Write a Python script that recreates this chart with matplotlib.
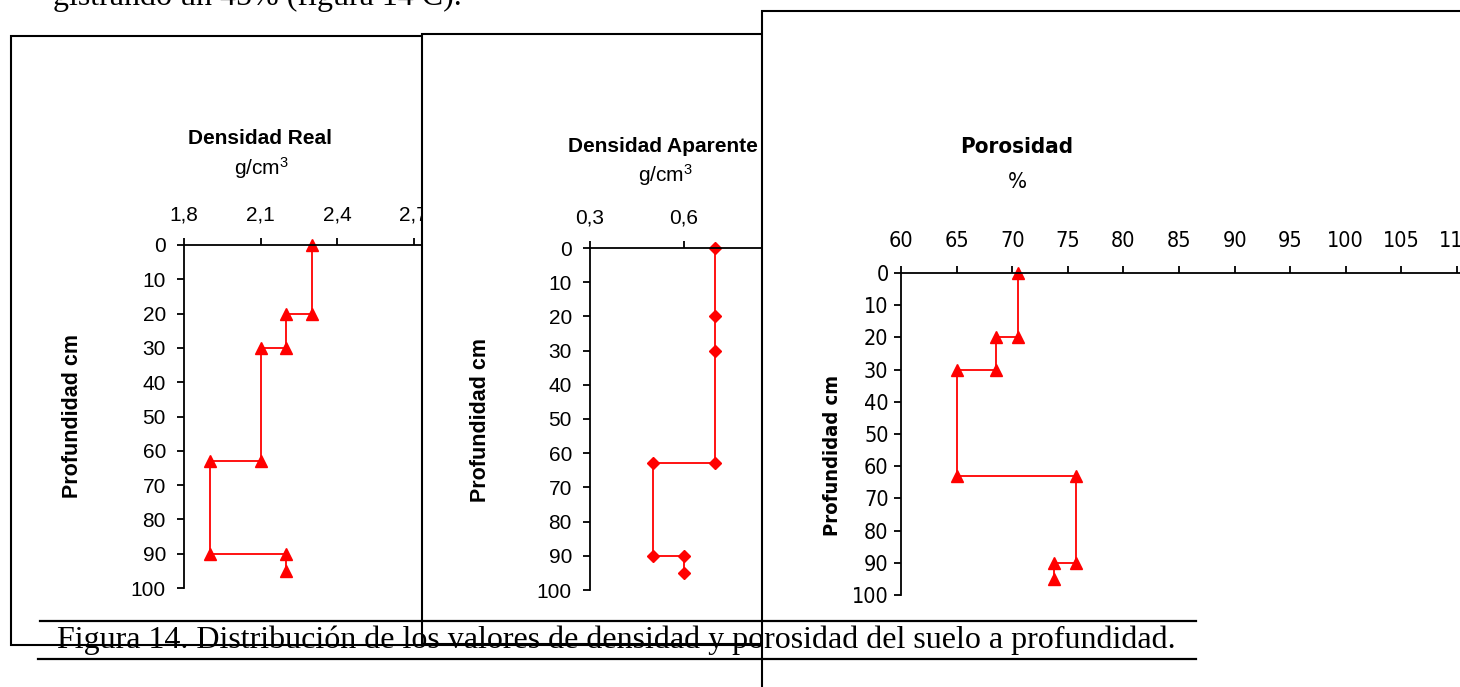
#!/usr/bin/env python3
"""Soil density / porosity depth profiles, three overlapping Excel-style panels."""

import matplotlib
matplotlib.use("Agg")
import matplotlib.pyplot as plt
from matplotlib import font_manager as fm
from matplotlib.patches import Rectangle
from matplotlib.lines import Line2D

plt.rcParams["font.family"] = ["Liberation Sans", "DejaVu Sans"]
plt.rcParams["mathtext.default"] = "regular"

W, H = 1460, 687
RED = "#FF0000"
SERIF = ["Liberation Serif", "DejaVu Serif"]

# data (depth in cm)
real_depth = [0, 20, 20, 30, 30, 63, 63, 90, 90, 95]
real_vals = [2.30, 2.30, 2.20, 2.20, 2.10, 2.10, 1.90, 1.90, 2.20, 2.20]
real_ticks = [1.8, 2.1, 2.4, 2.7, 3.0]

apar_depth = [0, 20, 30, 63, 63, 90, 90, 95]
apar_vals = [0.70, 0.70, 0.70, 0.70, 0.50, 0.50, 0.60, 0.60]
apar_ticks = [0.3, 0.6, 0.9, 1.2]

poro_depth = [0, 20, 20, 30, 30, 63, 63, 90, 90, 95]
poro_vals = [70.5, 70.5, 68.5, 68.5, 65.0, 65.0, 75.7, 75.7, 73.8, 73.8]
poro_ticks = [60, 65, 70, 75, 80, 85, 90, 95, 100, 105, 110, 115]

depth_ticks = list(range(0, 101, 10))

caption = ("Figura 14. Distribución de los valores de densidad y porosidad "
           "del suelo a profundidad.")
top_line = "gistrando un 45% (figura 14 C)."


def narrow_font(bold):
    # the porosity panel uses a condensed face; take one if the box has it
    best = None
    for f in fm.fontManager.ttflist:
        key = (f.name + " " + str(f.stretch) + " " + f.fname).lower()
        if not ("narrow" in key or "condensed" in key):
            continue
        if f.style != "normal":
            continue
        is_bold = f.weight in ("bold", 700) or "bold" in f.fname.lower()
        if is_bold != bold:
            continue
        if best is None or "liberation" in f.name.lower():
            best = f.fname
    return best


NARROW_R = narrow_font(False)
NARROW_B = narrow_font(True)


def narrow_props(size, bold=False):
    path = NARROW_B if bold else NARROW_R
    if path:
        return fm.FontProperties(fname=path, size=size)
    # no condensed face: plain sans, a bit smaller to keep the widths
    return fm.FontProperties(family="Liberation Sans", size=size - 1.5,
                             weight="bold" if bold else "normal")


def fx(px):
    return px / W


def fy(py):
    return 1 - py / H


def box(fig, x0, y0, x1, y1, z):
    r = Rectangle((fx(x0), fy(y1)), fx(x1) - fx(x0), fy(y0) - fy(y1),
                  transform=fig.transFigure, facecolor="white",
                  edgecolor="black", linewidth=1.5, zorder=z)
    fig.add_artist(r)


def profile_axes(fig, px, py, xlim, ticks, fmt, z, props, ypad, xpad):
    ax = fig.add_axes([fx(px[0]), fy(py[1]), fx(px[1]) - fx(px[0]),
                       fy(py[0]) - fy(py[1])])
    ax.set_zorder(z)
    ax.patch.set_visible(False)
    ax.set_xlim(*xlim)
    ax.set_ylim(100, 0)
    ax.xaxis.tick_top()
    ax.set_xticks(ticks)
    ax.set_xticklabels([fmt(t) for t in ticks])
    ax.set_yticks(depth_ticks)
    for s in ["right", "bottom"]:
        ax.spines[s].set_visible(False)
    for s in ["top", "left"]:
        ax.spines[s].set_linewidth(1.3)
    ax.tick_params(axis="x", direction="out", length=5, width=1.3, pad=xpad)
    ax.tick_params(axis="y", direction="out", length=5, width=1.3, pad=ypad)
    for lab in ax.get_xticklabels() + ax.get_yticklabels():
        lab.set_fontproperties(props)
    return ax


def comma(v):
    return f"{v:.1f}".replace(".", ",")


fig = plt.figure(figsize=(W / 100, H / 100), dpi=100)
fig.patch.set_facecolor("white")
tick_props = fm.FontProperties(family="Liberation Sans", size=15)

# panel A - densidad real
box(fig, 11, 36, 900, 645, 1)
ax1 = profile_axes(fig, (184, 490), (245, 588), (1.8, 3.0), real_ticks, comma,
                   2, tick_props, 8, 10)
ax1.plot(real_vals, real_depth, color=RED, lw=1.3, marker="^", ms=9,
         mec=RED, mfc=RED, clip_on=False)
fig.text(fx(260), fy(138), "Densidad Real", ha="center", va="center",
         fontsize=15, weight="bold", zorder=2.5)
fig.text(fx(261), fy(168), "g/cm$^{3}$", ha="center", va="center",
         fontsize=15, zorder=2.5)
fig.text(fx(72), fy(416), "Profundidad cm", ha="center", va="center",
         rotation=90, fontsize=15.5, weight="bold", zorder=2.5)

# panel B - densidad aparente
box(fig, 422, 34, 1100, 644, 3)
ax2 = profile_axes(fig, (590, 872), (248, 590), (0.3, 1.2), apar_ticks, comma,
                   4, tick_props, 8, 10)
ax2.plot(apar_vals, apar_depth, color=RED, lw=1.3, marker="D", ms=6.5,
         mec=RED, mfc=RED, clip_on=False)
fig.text(fx(568), fy(147), "Densidad Aparente", ha="left", va="center",
         fontsize=15, weight="bold", zorder=4.5)
fig.text(fx(665), fy(175), "g/cm$^{3}$", ha="center", va="center",
         fontsize=15, zorder=4.5)
fig.text(fx(480), fy(420), "Profundidad cm", ha="center", va="center",
         rotation=90, fontsize=15.5, weight="bold", zorder=4.5)

# panel C - porosidad
box(fig, 762, 11, 1520, 720, 5)
ax3 = profile_axes(fig, (901, 1512.6), (273, 595), (60, 115), poro_ticks,
                   lambda v: f"{v:d}", 6, narrow_props(15.5), 4, 11)
ax3.plot(poro_vals, poro_depth, color=RED, lw=1.3, marker="^", ms=9,
         mec=RED, mfc=RED, clip_on=False)
fig.text(fx(1017), fy(147), "Porosidad", ha="center", va="center",
         fontproperties=narrow_props(16, bold=True), zorder=6.5)
fig.text(fx(1017), fy(182), "%", ha="center", va="center",
         fontproperties=narrow_props(16), zorder=6.5)
fig.text(fx(832), fy(456), "Profundidad cm", ha="center", va="center",
         rotation=90, fontproperties=narrow_props(14.5, bold=True), zorder=6.5)

# document text on top
fig.text(fx(53), fy(5), top_line, ha="left", va="baseline", fontsize=23,
         family=SERIF, zorder=10)
fig.text(fx(57), fy(648), caption, ha="left", va="baseline", fontsize=23,
         family=SERIF, zorder=10)
for yy, xa in [(621, 40), (659, 38)]:
    fig.add_artist(Line2D([fx(xa), fx(1196)], [fy(yy), fy(yy)],
                          transform=fig.transFigure, color="black",
                          lw=1.6, zorder=10))

fig.savefig("out.png", dpi=100)
